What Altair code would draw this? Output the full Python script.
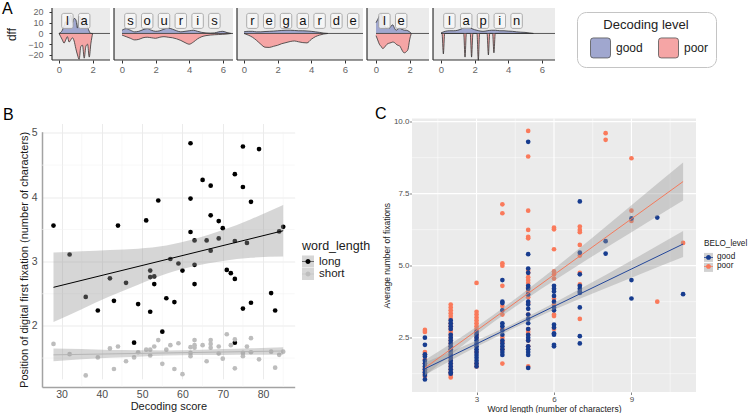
import altair as alt
import pandas as pd

FONT = "Liberation Sans"

# ---------------- Panel A : good (above 0) / poor (below 0) curves per word ----------------
la_x = [0, 0.1, 0.2, 0.3, 0.4, 0.5, 0.6, 0.7, 0.8, 0.9, 1.0, 1.1, 1.2, 1.3, 1.4, 1.5, 1.6, 1.7, 1.8, 1.9, 2.0]
la_good = [0, 1, 3, 7, 11, 8, 12, 17, 10, 14, 13, 5, 16, 14, 12, 14, 11, 6, 2, 0, 0]
la_poor = [0, -3, -6, -9, -6, -3, -8, -6, -4, -7, -14, -20, -24, -12, -11, -23, -12, -10, -22, -9, 0]

souris_x = [0, 0.25, 0.5, 0.75, 1.0, 1.25, 1.5, 1.75, 2.0, 2.25, 2.5, 2.75, 3.0, 3.25, 3.5,
            3.75, 4.0, 4.25, 4.5, 4.75, 5.0, 5.25, 5.5, 5.75, 6.0, 6.25, 6.5]
souris_good = [3, 4.5, 3, 1.5, 2, 3.5, 4.5, 3, 2, 2.5, 4, 5, 4, 2.5, 1.5, 2, 2.5, 3, 2, 1, 0.5,
               0.3, 0.5, 1.5, 2, 0.8, 0]
souris_poor = [-1.5, -3, -4.5, -6, -5.5, -4, -3.5, -4, -4.5, -3.5, -3, -3.5, -4, -5, -6.5, -8.5,
               -10, -8, -5, -3, -2, -1.5, -1.2, -1, -0.8, -0.5, 0]

regarde_x = [0, 0.25, 0.5, 0.75, 1.0, 1.25, 1.5, 1.75, 2.0, 2.25, 2.5, 2.75, 3.0, 3.25, 3.5,
             3.75, 4.0, 4.25, 4.5, 4.75, 5.0]
regarde_good = [1.5, 2, 2, 1.5, 1.5, 1.8, 2, 2.2, 2.5, 2.8, 3, 3, 2.8, 2.5, 2.5, 2.3, 2, 1.5, 1, 0.3, 0]
regarde_poor = [0, -1.5, -3.5, -6.5, -10, -12.8, -13, -12, -11, -9.5, -8.5, -7.5, -7, -7.8, -8.5,
                -8.8, -5.5, -3, -1.5, -0.5, 0]

le_x = [0, 0.1, 0.2, 0.3, 0.4, 0.5, 0.6, 0.7, 0.8, 0.9, 1.0, 1.1, 1.2, 1.3, 1.4, 1.5, 1.6, 1.7,
        1.8, 1.9, 2.0, 2.1]
le_good = [10, 13, 16, 18, 14, 8, 5, 6, 5, 7, 8, 5, 3, 4, 5, 4, 3.5, 3, 3, 2.5, 1.5, 0]
le_poor = [-2, -6, -10, -12, -14, -13, -11, -9.5, -9, -8.5, -8, -8.5, -10, -11, -11.5, -14, -17,
           -18, -17, -15, -6, 0]

lapin_good_x = [0, 0.25, 0.5, 0.75, 1.0, 1.25, 1.5, 1.75, 2.0, 2.25, 2.5, 2.75, 3.0, 3.25, 3.5,
                3.75, 4.0, 4.25, 4.5, 4.75, 5.0, 5.25, 5.5]
lapin_good = [0.5, 2, 2.5, 2.5, 3, 4.5, 6, 5, 3.5, 2.5, 2, 2.5, 3, 3, 2.5, 2.5, 2.2, 2, 1.5, 1.2,
              1, 0.5, 0]
lapin_poor_x = [0, 0.06, 0.14, 0.22, 1.35, 1.43, 1.51, 1.74, 1.82, 1.90, 2.14, 2.22, 2.30, 2.74,
                2.82, 2.90, 3.07, 3.15, 3.23, 5.5]
lapin_poor = [0, 0, -19, 0, 0, -22, 0, 0, -22, 0, 0, -25, 0, 0, -20, 0, 0, -18, 0, 0]

a_words = ["la", "souris", "regarde", "le", "lapin"]
a_ticks_y = [-20, -10, 0, 10, 20]
levels = ["good", "poor"]

# ---------------- Panel B ----------------
long_score = [28, 44, 51, 54, 32, 42, 46, 52, 52, 53, 53, 36, 43, 39, 49, 52, 56, 58, 55, 48,
              57, 62, 75, 79, 65, 67, 73, 75, 62, 77, 67, 69, 70, 62, 85, 63, 66, 69, 73, 76,
              84, 67, 59, 60, 63, 71, 72, 73, 63, 82, 77, 75, 83, 73]
long_pos = [3.56, 3.56, 3.64, 3.95, 3.11, 2.74, 2.67, 2.86, 2.76, 2.77, 2.65, 2.45, 2.39, 2.24,
            2.34, 2.22, 2.43, 2.37, 1.91, 1.74, 3.04, 4.84, 4.79, 4.75, 4.27, 4.18, 4.36, 4.16,
            3.98, 3.93, 3.72, 3.63, 3.52, 3.46, 3.54, 3.33, 3.33, 3.36, 3.32, 3.29, 3.47, 3.17,
            2.97, 2.86, 2.95, 2.87, 2.82, 2.73, 2.65, 2.51, 2.36, 2.27, 2.24, 1.74]
short_score = [28, 32, 36, 39, 42, 44, 43, 46, 48, 49, 51, 52, 52, 53, 54, 55, 56, 57, 58, 59,
               60, 62, 62, 62, 63, 63, 63, 65, 66, 67, 67, 67, 69, 69, 70, 71, 72, 73, 73, 75,
               75, 76, 77, 77, 79, 82, 83, 84, 85]
short_pos = [1.72, 1.56, 1.23, 1.51, 1.65, 1.68, 1.33, 1.45, 1.51, 1.59, 1.63, 1.63, 1.54, 1.68,
             1.78, 1.41, 1.63, 1.70, 1.33, 1.73, 1.25, 1.67, 1.58, 1.53, 1.78, 1.70, 1.66, 1.70,
             1.45, 1.78, 1.72, 1.66, 1.68, 1.57, 1.49, 1.87, 1.70, 1.79, 1.34, 1.58, 1.53, 1.68,
             1.81, 1.59, 1.48, 1.60, 1.35, 1.55, 1.60]
fit_score = [28, 85]
fit_long = [2.60, 3.48]
fit_short = [1.55, 1.61]
band_score = [28, 35, 42, 49, 56, 63, 70, 77, 85]
band_long_lo = [2.06, 2.26, 2.46, 2.64, 2.81, 2.93, 3.01, 3.06, 3.08]
band_long_hi = [3.14, 3.16, 3.18, 3.20, 3.25, 3.35, 3.49, 3.66, 3.88]
band_short_lo = [1.45, 1.48, 1.505, 1.52, 1.54, 1.547, 1.549, 1.551, 1.55]
band_short_hi = [1.65, 1.64, 1.625, 1.622, 1.619, 1.627, 1.639, 1.651, 1.67]
b_ticks_x = [30, 40, 50, 60, 70, 80]
b_ticks_y = [2, 3, 4, 5]
b_minor_x = [35, 45, 55, 65, 75, 85]
b_minor_y = [1.5, 2.5, 3.5, 4.5]

# ---------------- Panel C ----------------
good_len1 = [2.5, 2.25, 1.92, 1.85, 1.7, 1.6, 1.5, 1.4, 1.3, 1.2, 1.05]
good_len2 = [3.1, 3.0, 2.9, 2.8, 2.6, 2.5, 2.4, 2.3, 2.2, 2.1, 2.0, 1.9, 1.8, 1.7, 1.6, 1.5, 1.4, 1.3, 1.25]
good_len3 = [2.7, 2.6, 2.5, 2.4, 2.3, 2.2, 2.1, 2.0, 1.9, 1.8, 1.7, 1.6, 1.5]
good_len4 = [4.5, 3.75, 3.7, 3.45, 3.0, 2.9, 2.75, 2.6, 2.4, 2.3, 2.2, 2.1, 2.0, 1.9]
good_len5 = [9.3, 5.4, 4.9, 4.75, 4.3, 4.2, 4.0, 3.75, 3.65, 3.5, 3.3, 3.15, 3.0, 2.8, 2.6, 2.5,
             2.4, 2.2, 2.1, 2.0, 1.9, 1.45]
good_len6 = [4.3, 4.2, 4.1, 3.95, 3.75, 3.55, 3.45, 2.95, 2.85, 2.65, 2.6, 2.25, 2.2]
good_len7 = [7.23, 5.45, 4.7, 4.3, 4.2, 4.1, 4.05, 3.55, 2.55, 2.3]
good_len8 = [5.85, 5.42]
good_len9 = [6.64, 4.5, 3.86]
good_len10 = [6.67]
good_len11 = [4.01]
poor_len1 = [2.77, 2.7, 2.0, 1.9, 1.75, 1.6, 1.45, 1.35, 1.25, 1.15]
poor_len2 = [3.65, 3.55, 3.45, 3.35, 3.25, 3.15, 3.0, 2.9, 2.8, 2.7, 2.6, 2.5, 2.4, 2.3, 2.2, 2.1,
             2.0, 1.9, 1.8, 1.7, 1.6, 1.5, 1.4, 1.3, 1.2, 1.12]
poor_len3 = [4.4, 3.4, 3.3, 3.2, 3.1, 3.0, 2.9, 2.8, 2.7, 2.6, 2.5, 2.0, 1.6, 1.5]
poor_len4 = [7.13, 6.82, 5.08, 5.0, 4.3, 3.6, 3.3, 2.8, 2.5, 2.35, 2.1, 1.6]
poor_len5 = [9.68, 8.79, 6.91, 6.24, 6.0, 5.95, 4.85, 4.75, 4.6, 4.5, 4.4, 4.25, 4.1, 3.9, 3.7,
             3.3, 2.8, 2.7, 2.6, 2.4, 2.2, 1.5]
poor_len6 = [6.32, 6.26, 5.57, 4.8, 4.7, 4.55, 3.85, 3.65, 3.3, 3.25, 2.8]
poor_len7 = [6.36, 6.24, 6.16, 5.72, 5.35, 4.75, 4.35, 3.15]
poor_len8 = [9.6, 9.37]
poor_len9 = [8.73, 6.91, 6.55]
poor_len10 = [3.75]
poor_len11 = [5.79]
cfit_len = [1, 11]
cfit_good = [1.42, 5.75]
cfit_poor = [1.45, 7.92]
cband_len = [1, 3, 5, 7, 9, 11]
cband_good_lo = [1.20, 2.18, 3.06, 3.85, 4.58, 5.30]
cband_good_hi = [1.64, 2.40, 3.24, 4.19, 5.18, 6.20]
cband_poor_lo = [1.18, 2.60, 3.89, 5.05, 6.16, 7.26]
cband_poor_hi = [1.72, 2.88, 4.19, 5.61, 7.10, 8.58]
c_ticks_x = [3, 6, 9]
c_ticks_y = [2.5, 5.0, 7.5, 10.0]
c_minor_x = [1.5, 4.5, 7.5, 10.5]
c_minor_y = [1.25, 3.75, 6.25, 8.75]

NO_OVERLAP = dict(labelOverlap=False, labelSeparation=-100)

# =====================================================================
# Row A : five word panels drawn on one chart (shared character scale)
# =====================================================================
A_PX = 16.8            # pixels per character unit
A_GAP = 4 / A_PX       # gap between panels
A_LEFT = 10 / A_PX     # panel A starts 10px right of panel B
A_H = 52
A_YDOM = [-24.7, 23.7]
a_xdom = [[-0.417, 3.036], [-0.476, 6.607], [-0.417, 7.083], [-0.536, 3.155], [-0.476, 6.786]]
a_good_x = [la_x, souris_x, regarde_x, le_x, lapin_good_x]
a_good_v = [la_good, souris_good, regarde_good, le_good, lapin_good]
a_poor_x = [la_x, souris_x, regarde_x, le_x, lapin_poor_x]
a_poor_v = [la_poor, souris_poor, regarde_poor, le_poor, lapin_poor]

curve_rows, panel_rows, letter_rows, tick_vals = [], [], [], []
offsets, starts = [], []
start = 0.0
for k, word in enumerate(a_words):
    lo, hi = a_xdom[k]
    off = start - lo
    offsets.append(off)
    starts.append(start)
    for x, v in zip(a_good_x[k], a_good_v[k]):
        curve_rows.append({"word": word, "level": "good", "gx": x + off, "v": v})
    for x, v in zip(a_poor_x[k], a_poor_v[k]):
        curve_rows.append({"word": word, "level": "poor", "gx": x + off, "v": v})
    panel_rows.append({"word": word, "g0": start, "g1": start + hi - lo, "gz": off,
                       "ylo": A_YDOM[0], "yhi": A_YDOM[1]})
    for i, ch in enumerate(word):
        letter_rows.append({"word": word, "letter": ch, "gc": off + i + 0.5,
                            "b0": off + i + 0.16, "b1": off + i + 0.84})
    tick_vals += [off + t for t in (0, 2, 4, 6) if t <= hi]
    start += (hi - lo) + A_GAP
a_total = start - A_GAP
a_width = (a_total + A_LEFT) * A_PX

label_expr = f"format(abs(round(datum.value - {offsets[-1]:.5f})), 'd')"
for k in range(len(a_words) - 2, -1, -1):
    label_expr = (f"datum.value < {starts[k + 1]:.5f} ? "
                  f"format(abs(round(datum.value - {offsets[k]:.5f})), 'd') : ({label_expr})")

curves = pd.DataFrame(curve_rows)
pans = pd.DataFrame(panel_rows)
lets = pd.DataFrame(letter_rows)

axs = alt.Scale(domain=[-A_LEFT, a_total], nice=False, zero=False)
ays = alt.Scale(domain=A_YDOM, nice=False, zero=False)
ax_axis = alt.Axis(values=tick_vals, tickCount=len(tick_vals) + 4, labelExpr=label_expr,
                   title=None, grid=False, domain=False, tickColor="#333333", tickSize=3,
                   tickWidth=1, labelColor="#666666", labelFontSize=9.5, labelPadding=1,
                   **NO_OVERLAP)
ay_axis = alt.Axis(values=a_ticks_y, tickCount=len(a_ticks_y) + 4, format="d", title="dff",
                   offset=-10, grid=False, domain=False, tickColor="#333333", tickSize=3,
                   labelColor="#666666", labelFontSize=9, labelPadding=6, titleFontSize=12,
                   titleFontWeight="normal", titleColor="#222222", titlePadding=9,
                   **NO_OVERLAP)

GOOD_FILL = "#A0A7CF"
POOR_FILL = "#F5A5A5"
ROUND_SQ = ("M -0.72,-1 L 0.72,-1 Q 1,-1 1,-0.72 L 1,0.72 Q 1,1 0.72,1 L -0.72,1 "
            "Q -1,1 -1,0.72 L -1,-0.72 Q -1,-1 -0.72,-1 Z")
legA = alt.Legend(title="Decoding level", orient="none", legendX=535, legendY=4,
                  direction="horizontal", titleAnchor="middle", titleFontSize=13,
                  titleFontWeight="normal", titleColor="#222222", titlePadding=5,
                  labelFontSize=12, labelColor="#222222", labelOffset=5,
                  symbolType=ROUND_SQ, symbolSize=400, symbolStrokeColor="#555555",
                  symbolStrokeWidth=0.8, symbolOpacity=1, strokeColor="#C4C4C4",
                  cornerRadius=9, padding=7, symbolOffset=6, columnPadding=9,
                  fillColor="white")

a_bg = alt.Chart(pans).mark_rect(fill="#EBEBEB").encode(
    x=alt.X("g0:Q", scale=axs, axis=ax_axis), x2="g1:Q",
    y=alt.Y("ylo:Q", scale=ays, axis=ay_axis), y2="yhi:Q")
a_area = alt.Chart(curves).mark_area(interpolate="monotone").encode(
    x=alt.X("gx:Q", scale=axs), y=alt.Y("v:Q", scale=ays), y2=alt.datum(0),
    fill=alt.Fill("level:N", scale=alt.Scale(domain=levels, range=[GOOD_FILL, POOR_FILL]),
                  legend=legA),
    detail="word:N")
a_outline = alt.Chart(curves).mark_line(interpolate="monotone", color="#333333",
                                        strokeWidth=0.8).encode(
    x=alt.X("gx:Q", scale=axs), y=alt.Y("v:Q", scale=ays), detail=["word:N", "level:N"])
a_zero = alt.Chart(pans).mark_rule(color="#333333", strokeWidth=0.8).encode(
    x=alt.X("gz:Q", scale=axs), x2="g1:Q", y=alt.datum(0))
a_left = alt.Chart(pans).mark_rule(color="#333333", strokeWidth=1.2).encode(
    x=alt.X("g0:Q", scale=axs), y=alt.Y("ylo:Q", scale=ays), y2="yhi:Q")
a_bottom = alt.Chart(pans).mark_rule(color="#333333", strokeWidth=1.2).encode(
    x=alt.X("g0:Q", scale=axs), x2="g1:Q", y=alt.Y("ylo:Q", scale=ays))
a_boxes = alt.Chart(lets).mark_rect(fill="#F7F7F7", fillOpacity=0.85, stroke="#9A9A9A",
                                    strokeWidth=0.8, cornerRadius=2).encode(
    x=alt.X("b0:Q", scale=axs), x2="b1:Q", y=alt.datum(4.7), y2=alt.datum(18.7))
a_letters = alt.Chart(lets).mark_text(font=FONT, fontSize=13, color="#111111",
                                      baseline="middle").encode(
    x=alt.X("gc:Q", scale=axs), y=alt.datum(11.5), text="letter:N")
a_tag = alt.Chart(pd.DataFrame({"t": ["A"]})).mark_text(
    font=FONT, fontSize=16, color="#000000", align="left", baseline="alphabetic").encode(
    text="t:N", x=alt.value(-40), y=alt.value(6))

rowA = alt.layer(a_bg, a_area, a_outline, a_zero, a_left, a_bottom, a_boxes, a_letters,
                 a_tag).properties(width=a_width, height=A_H)

# =====================================================================
# Row B/C : both scatter panels on one chart with their own scales
# =====================================================================
B_W, B_TOP, B_BOT = 252.7, 13.2, 268.5
B_XDOM = [25.15, 87.85]
B_YDOM = [1.05, 5.02]
C_X0, C_X1, C_H = 370, 654, 273.5

b_pts = pd.concat([pd.DataFrame({"score": long_score, "pos": long_pos, "word_length": "long"}),
                   pd.DataFrame({"score": short_score, "pos": short_pos, "word_length": "short"})],
                  ignore_index=True)
b_band = pd.concat([pd.DataFrame({"score": band_score, "lo": band_long_lo, "hi": band_long_hi,
                                  "word_length": "long"}),
                    pd.DataFrame({"score": band_score, "lo": band_short_lo, "hi": band_short_hi,
                                  "word_length": "short"})], ignore_index=True)
b_band["key"] = b_band["word_length"] + " "
b_fit = pd.concat([pd.DataFrame({"score": fit_score, "pos": fit_long, "word_length": "long"}),
                   pd.DataFrame({"score": fit_score, "pos": fit_short, "word_length": "short"})],
                  ignore_index=True)
b_mx = pd.DataFrame({"v": b_minor_x, "lo": B_YDOM[0], "hi": B_YDOM[1]})
b_my = pd.DataFrame({"v": b_minor_y, "lo": B_XDOM[0], "hi": B_XDOM[1]})

bxs = alt.Scale(domain=B_XDOM, range=[0, B_W], nice=False, zero=False)
bys = alt.Scale(domain=B_YDOM, range=[B_BOT, B_TOP], nice=False, zero=False)
bx_axis = alt.Axis(orient="bottom", offset=B_BOT - C_H, values=b_ticks_x,
                   tickCount=len(b_ticks_x) + 4, format="d",
                   grid=True, gridColor="#EBEBEB", gridWidth=1, ticks=False, tickSize=0,
                   domainColor="#A3A3A3", domainWidth=1.5, labelColor="#4D4D4D",
                   labelFontSize=10.5, labelPadding=2, title="Decoding score",
                   titleFontSize=11, titleFontWeight="normal", titleColor="#1A1A1A",
                   titlePadding=1, **NO_OVERLAP)
by_axis = alt.Axis(orient="left", values=b_ticks_y, tickCount=len(b_ticks_y) + 4, format="d",
                   grid=True, gridColor="#EBEBEB", gridWidth=1, ticks=False, tickSize=0,
                   domainColor="#A3A3A3", domainWidth=1.5, labelColor="#4D4D4D",
                   labelFontSize=10.5, labelPadding=5,
                   title="Position of digital first fixation (number of characters)",
                   titleFontSize=11, titleFontWeight="normal", titleColor="#1A1A1A",
                   titlePadding=2, **NO_OVERLAP)

DOT_B = ("M -0.42,0 A 0.42,0.42 0 1,1 0.42,0 A 0.42,0.42 0 1,1 -0.42,0 Z "
         "M -1,-0.05 L 1,-0.05 L 1,0.05 L -1,0.05 Z")
b_leg_pts = alt.Legend(title="word_length", orient="none", legendX=260, legendY=121,
                       symbolType=DOT_B, symbolSize=144, symbolStrokeWidth=0,
                       labelFontSize=11.5, labelColor="#1A1A1A", labelOffset=5,
                       titleFontSize=12.5, titleFontWeight="normal", titleColor="#1A1A1A",
                       titlePadding=3.5, rowPadding=0.5, padding=0, zindex=2)
b_leg_key = alt.Legend(title=" ", orient="none", legendX=260, legendY=121,
                       symbolType="square", symbolSize=144, symbolStrokeWidth=0,
                       symbolOpacity=0.4, labelFontSize=11.5, labelExpr="''", labelOffset=5,
                       titleFontSize=12.5, titleFontWeight="normal",
                       titlePadding=3.5, rowPadding=0.5, padding=0, zindex=1)

b_gx = alt.Chart(b_mx).mark_rule(color="#F4F4F4", strokeWidth=0.6).encode(
    x=alt.X("v:Q", scale=bxs, axis=bx_axis), y=alt.Y("lo:Q", scale=bys, axis=by_axis), y2="hi:Q")
b_gy = alt.Chart(b_my).mark_rule(color="#F4F4F4", strokeWidth=0.6).encode(
    y=alt.Y("v:Q", scale=bys), x=alt.X("lo:Q", scale=bxs), x2="hi:Q")
b_points = alt.Chart(b_pts).mark_circle(size=22, opacity=1).encode(
    x=alt.X("score:Q", scale=bxs), y=alt.Y("pos:Q", scale=bys),
    color=alt.Color("word_length:N", scale=alt.Scale(domain=["long", "short"],
                                                     range=["#000000", "#BDBDBD"]),
                    legend=b_leg_pts))
b_ribbon = alt.Chart(b_band).mark_area(opacity=0.4, interpolate="monotone").encode(
    x=alt.X("score:Q", scale=bxs), y=alt.Y("lo:Q", scale=bys), y2="hi:Q",
    fill=alt.Fill("key:N", scale=alt.Scale(domain=["long ", "short "],
                                           range=["#999999", "#999999"]),
                  legend=b_leg_key))
b_lines = alt.Chart(b_fit).mark_line(strokeWidth=1).encode(
    x=alt.X("score:Q", scale=bxs), y=alt.Y("pos:Q", scale=bys),
    stroke=alt.Stroke("word_length:N", scale=alt.Scale(domain=["long", "short"],
                                                       range=["#000000", "#B5B5B5"]),
                      legend=None))
layerB = alt.layer(b_gx, b_gy, b_points, b_ribbon, b_lines)

good_lists = [good_len1, good_len2, good_len3, good_len4, good_len5, good_len6, good_len7,
              good_len8, good_len9, good_len10, good_len11]
poor_lists = [poor_len1, poor_len2, poor_len3, poor_len4, poor_len5, poor_len6, poor_len7,
              poor_len8, poor_len9, poor_len10, poor_len11]
rows = []
for n, vals in enumerate(poor_lists, start=1):
    rows += [{"len": n, "avg": v, "BELO_level": "poor"} for v in vals]
for n, vals in enumerate(good_lists, start=1):
    rows += [{"len": n, "avg": v, "BELO_level": "good"} for v in vals]
c_pts = pd.DataFrame(rows)
c_band = pd.concat([pd.DataFrame({"len": cband_len, "lo": cband_good_lo, "hi": cband_good_hi,
                                  "BELO_level": "good"}),
                    pd.DataFrame({"len": cband_len, "lo": cband_poor_lo, "hi": cband_poor_hi,
                                  "BELO_level": "poor"})], ignore_index=True)
c_band["key"] = c_band["BELO_level"] + " "
c_fit = pd.concat([pd.DataFrame({"len": cfit_len, "avg": cfit_good, "BELO_level": "good"}),
                   pd.DataFrame({"len": cfit_len, "avg": cfit_poor, "BELO_level": "poor"})],
                  ignore_index=True)

C_XDOM = [0.5, 11.5]
C_YDOM = [0.613, 10.11]
c_panel = pd.DataFrame({"x0": [C_XDOM[0]], "x1": [C_XDOM[1]],
                        "y0": [C_YDOM[0]], "y1": [C_YDOM[1]]})
c_gx_major = pd.DataFrame({"v": c_ticks_x, "lo": C_YDOM[0], "hi": C_YDOM[1]})
c_gx_minor = pd.DataFrame({"v": c_minor_x, "lo": C_YDOM[0], "hi": C_YDOM[1]})
c_gy_major = pd.DataFrame({"v": c_ticks_y, "lo": C_XDOM[0], "hi": C_XDOM[1]})
c_gy_minor = pd.DataFrame({"v": c_minor_y, "lo": C_XDOM[0], "hi": C_XDOM[1]})
GOOD_C = "#173C8F"
POOR_C = "#FA7A5B"
cxs = alt.Scale(domain=C_XDOM, range=[C_X0, C_X1], nice=False, zero=False)
cys = alt.Scale(domain=C_YDOM, range=[C_H, 0], nice=False, zero=False)
cx_axis = alt.Axis(orient="bottom", values=c_ticks_x, tickCount=len(c_ticks_x) + 4, format="d",
                   grid=False, domain=False,
                   tickColor="#333333", tickSize=2.5, tickWidth=0.6, labelColor="#4D4D4D",
                   labelFontSize=8, labelPadding=0.5, title="Word length (number of characters)",
                   titleFontSize=8.5, titleFontWeight="normal", titleColor="#1A1A1A",
                   titlePadding=1, **NO_OVERLAP)
cy_axis = alt.Axis(orient="left", offset=-C_X0, values=c_ticks_y, tickCount=len(c_ticks_y) + 4,
                   format=".1f", grid=False,
                   domain=False, tickColor="#333333", tickSize=2.5, tickWidth=0.6,
                   labelColor="#4D4D4D", labelFontSize=8, labelPadding=0.5,
                   title="Average number of fixations", titleFontSize=8.5,
                   titleFontWeight="normal", titleColor="#1A1A1A", titlePadding=2,
                   **NO_OVERLAP)
DOT_C = ("M -0.55,0 A 0.55,0.55 0 1,1 0.55,0 A 0.55,0.55 0 1,1 -0.55,0 Z "
         "M -1,-0.07 L 1,-0.07 L 1,0.07 L -1,0.07 Z")
c_leg_pts = alt.Legend(title="BELO_level", orient="none", legendX=662, legendY=121.7,
                       symbolType=DOT_C, symbolSize=81, symbolStrokeWidth=0,
                       labelFontSize=8.2, labelColor="#1A1A1A", labelOffset=4,
                       titleFontSize=8.2, titleFontWeight="normal", titleColor="#1A1A1A",
                       titlePadding=4.5, rowPadding=0, padding=0, zindex=2)
c_leg_key = alt.Legend(title=" ", orient="none", legendX=662, legendY=121.7,
                       symbolType="square", symbolSize=81, symbolStrokeWidth=0,
                       symbolOpacity=0.45, labelFontSize=8.2, labelExpr="''", labelOffset=4,
                       titleFontSize=8.2, titleFontWeight="normal",
                       titlePadding=4.5, rowPadding=0, padding=0, zindex=1)

c_bg = alt.Chart(c_panel).mark_rect(fill="#EBEBEB").encode(
    x=alt.X("x0:Q", scale=cxs, axis=cx_axis), x2="x1:Q",
    y=alt.Y("y0:Q", scale=cys, axis=cy_axis), y2="y1:Q")
c_g1 = alt.Chart(c_gx_minor).mark_rule(color="white", strokeWidth=0.5).encode(
    x=alt.X("v:Q", scale=cxs), y=alt.Y("lo:Q", scale=cys), y2="hi:Q")
c_g2 = alt.Chart(c_gy_minor).mark_rule(color="white", strokeWidth=0.5).encode(
    y=alt.Y("v:Q", scale=cys), x=alt.X("lo:Q", scale=cxs), x2="hi:Q")
c_g3 = alt.Chart(c_gx_major).mark_rule(color="white", strokeWidth=1.1).encode(
    x=alt.X("v:Q", scale=cxs), y=alt.Y("lo:Q", scale=cys), y2="hi:Q")
c_g4 = alt.Chart(c_gy_major).mark_rule(color="white", strokeWidth=1.1).encode(
    y=alt.Y("v:Q", scale=cys), x=alt.X("lo:Q", scale=cxs), x2="hi:Q")
c_points = alt.Chart(c_pts).mark_circle(size=22, opacity=1).encode(
    x=alt.X("len:Q", scale=cxs), y=alt.Y("avg:Q", scale=cys),
    color=alt.Color("BELO_level:N", scale=alt.Scale(domain=levels, range=[GOOD_C, POOR_C]),
                    legend=c_leg_pts))
c_ribbon = alt.Chart(c_band).mark_area(opacity=0.4, interpolate="monotone").encode(
    x=alt.X("len:Q", scale=cxs), y=alt.Y("lo:Q", scale=cys), y2="hi:Q",
    fill=alt.Fill("key:N", scale=alt.Scale(domain=["good ", "poor "],
                                           range=["#999999", "#999999"]),
                  legend=c_leg_key))
c_lines = alt.Chart(c_fit).mark_line(strokeWidth=1).encode(
    x=alt.X("len:Q", scale=cxs), y=alt.Y("avg:Q", scale=cys),
    stroke=alt.Stroke("BELO_level:N", scale=alt.Scale(domain=levels,
                                                      range=["#24479A", "#F47A5C"]),
                      legend=None))
layerC = alt.layer(c_bg, c_g1, c_g2, c_g3, c_g4, c_points, c_ribbon, c_lines)

tags = pd.DataFrame({"t": ["B", "C"]})
tag_b = alt.Chart(tags).transform_filter("datum.t == 'B'").mark_text(
    font=FONT, fontSize=16, color="#000000", align="left", baseline="alphabetic").encode(
    text="t:N", x=alt.value(-39), y=alt.value(1))
tag_c = alt.Chart(tags).transform_filter("datum.t == 'C'").mark_text(
    font=FONT, fontSize=16, color="#000000", align="left", baseline="alphabetic").encode(
    text="t:N", x=alt.value(333), y=alt.value(0.5))

rowBC = alt.layer(layerB, layerC, tag_b, tag_c).resolve_scale(
    x="independent", y="independent", color="independent", fill="independent",
    stroke="independent").properties(width=C_X1, height=C_H)

chart = alt.vconcat(rowA, rowBC, spacing=58.5, bounds="flush").resolve_scale(
    color="independent", fill="independent", stroke="independent"
).properties(
    padding={"left": 2, "top": 1, "right": 0, "bottom": 0},
    autosize=alt.AutoSizeParams(type="pad"),
    background="white",
).configure_view(stroke=None).configure_axis(
    labelFont=FONT, titleFont=FONT, labelOverlap=False
).configure_legend(
    labelFont=FONT, titleFont=FONT
)

chart.save("out.html", embed_options={"renderer": "svg", "actions": False})
